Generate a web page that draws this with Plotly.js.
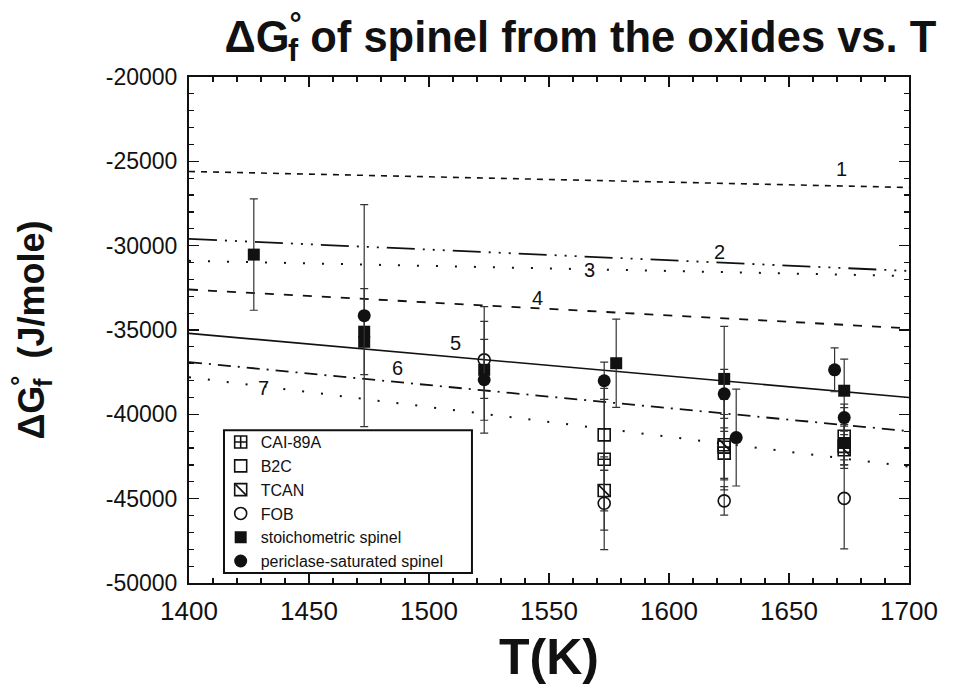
<!DOCTYPE html>
<html>
<head>
<meta charset="utf-8">
<script src="https://cdn.plot.ly/plotly-3.0.1.min.js"></script>
<style>html,body{margin:0;padding:0;background:#fff;}#chart{width:953px;height:694px;}</style>
</head>
<body>
<div id="chart"></div>
<script>
// ---- data ----
const lineT = [1400, 1700];
const line1 = [-25600, -26550];
const line2 = [-29600, -31500];
const line3 = [-30900, -31800];
const line4 = [-32600, -34900];
const line5 = [-35200, -39000];
const line6 = [-36900, -41000];
const line7 = [-37800, -43100];
const lineLabels = ["1", "2", "3", "4", "5", "6", "7"];
const labelT = [1672, 1621, 1567, 1545, 1511, 1487, 1431];
const labelG = [-25450, -30350, -31450, -33100, -35750, -37250, -38450];

const caiT = [1573, 1623, 1673];
const caiG = [-42660, -42300, -41900];
const caiErr = [4200, 1500, 1300];

const b2cT = [1573, 1623, 1673];
const b2cG = [-41220, -41950, -41300];
const b2cErr = [2100, 1940, 1700];

const tcanT = [1573, 1623, 1673];
const tcanG = [-44520, -41800, -42100];
const tcanErr = [1200, 2680, 900];

const fobT = [1523, 1573, 1623, 1673];
const fobG = [-36770, -45270, -45130, -44980];
const fobErr = [2280, 2750, 840, 3000];

const stoT = [1427, 1473, 1473, 1523, 1578, 1623, 1673, 1673];
const stoG = [-30530, -35100, -35700, -37360, -36970, -37900, -38600, -41700];
const stoErr = [3300, 2550, 0, 3750, 2620, 3110, 1875, 1000];

const perT = [1473, 1523, 1573, 1623, 1628, 1669, 1673];
const perG = [-34150, -37950, -38010, -38785, -41380, -37360, -40190];
const perErr = [6580, 2400, 1100, 1450, 2870, 1300, 800];

const xTicks = [1400, 1450, 1500, 1550, 1600, 1650, 1700];
const yTicks = [-50000, -45000, -40000, -35000, -30000, -25000, -20000];

// ---- styles ----
const FONT = "Liberation Sans, Arial, Helvetica, sans-serif";
const INK = "#111";
function lineTrace(y, dash, w) {
  return {x: lineT, y: y, mode: "lines", showlegend: false, hoverinfo: "skip",
          line: {color: INK, width: w, dash: dash}};
}
function err(arr) {
  return {type: "data", array: arr, visible: true, color: "#333", thickness: 1.2, width: 4};
}
const MS = 12;
const traces = [
  lineTrace(line1, "6px,6px", 1.6),
  lineTrace(line2, "28px,8px,2px,8px,2px,8px,2px,8px", 1.8),
  lineTrace(line3, "2px,17px", 2),
  lineTrace(line4, "9px,10px", 1.8),
  lineTrace(line5, "solid", 1.6),
  lineTrace(line6, "13px,7px,2px,7px", 1.8),
  lineTrace(line7, "2px,17px", 2),
  {x: caiT, y: caiG, name: "CAI-89A", mode: "markers", error_y: err(caiErr),
   marker: {symbol: "square-cross-open", size: MS, color: INK, line: {width: 1.6, color: INK}}},
  {x: b2cT, y: b2cG, name: "B2C", mode: "markers", error_y: err(b2cErr),
   marker: {symbol: "square-open", size: MS, color: INK, line: {width: 1.6, color: INK}}},
  {x: tcanT, y: tcanG, name: "TCAN", mode: "markers", error_y: err(tcanErr),
   marker: {symbol: "square-open", size: MS, color: INK, line: {width: 1.6, color: INK}}},
  {x: fobT, y: fobG, name: "FOB", mode: "markers", error_y: err(fobErr),
   marker: {symbol: "circle-open", size: MS, color: INK, line: {width: 1.6, color: INK}}},
  {x: stoT, y: stoG, name: "stoichometric spinel", mode: "markers", error_y: err(stoErr),
   marker: {symbol: "square", size: MS, color: INK}},
  {x: perT, y: perG, name: "periclase-saturated spinel", mode: "markers", error_y: err(perErr),
   marker: {symbol: "circle", size: MS + 1, color: INK}},
  {x: tcanT, y: tcanG, mode: "markers", showlegend: false, hoverinfo: "skip",
   marker: {symbol: "line-nw-open", size: MS, color: INK, line: {width: 1.6, color: INK}}}
];

const annotations = lineLabels.map((t, i) => ({
  x: labelT[i], y: labelG[i], text: t, showarrow: false,
  font: {family: FONT, size: 20, color: INK}, xanchor: "center", yanchor: "middle"
}));

const axisCommon = {
  showgrid: false, zeroline: false, showline: true, linecolor: INK, linewidth: 2,
  mirror: "ticks", ticks: "inside", ticklen: 10, tickwidth: 1.5, tickcolor: INK
};

const DG = "ΔG<sup><span style='letter-spacing:-0.45em'>°</span></sup><sub>f</sub>";

const layout = {
  width: 953, height: 694,
  margin: {l: 189, r: 44, t: 77, b: 111},
  paper_bgcolor: "#fff", plot_bgcolor: "#fff",
  title: {text: DG + " of spinel from the oxides vs. T",
          font: {family: FONT, size: 43.5, color: INK, weight: "bold"},
          x: 0.609, xanchor: "center", y: 0.947, yanchor: "middle"},
  xaxis: Object.assign({}, axisCommon, {
    range: [1400, 1700], tickvals: xTicks, ticktext: xTicks.map(String),
    tickfont: {family: FONT, size: 26, color: INK},
    minor: {dtick: 10, ticks: "inside", ticklen: 5, tickwidth: 1.2, tickcolor: INK},
    ticklabelstandoff: 4,
    title: {text: "T(K)", font: {family: FONT, size: 50, color: INK, weight: "bold"}, standoff: 14}
  }),
  yaxis: Object.assign({}, axisCommon, {
    range: [-50000, -20000], tickvals: yTicks, ticktext: yTicks.map(String),
    tickfont: {family: FONT, size: 23, color: INK},
    minor: {dtick: 1000, ticks: "inside", ticklen: 5, tickwidth: 1.2, tickcolor: INK},
    ticklabelstandoff: 5,
    title: {text: DG + "  (J/mole)", font: {family: FONT, size: 36, color: INK, weight: "bold"}, standoff: 50}
  }),
  legend: {x: 0.044, y: 0.312, xanchor: "left", yanchor: "top",
           bgcolor: "rgba(255,255,255,0)", borderwidth: 0,
           font: {family: FONT, size: 16, color: INK}, itemwidth: 30},
  annotations: annotations,
  shapes: [{type: "rect", xref: "paper", yref: "paper", layer: "above",
            x0: 0.0486, x1: 0.393, y0: 0.0198, y1: 0.302,
            line: {color: INK, width: 2}, fillcolor: "rgba(0,0,0,0)"}],
  showlegend: true
};

const gd = document.getElementById("chart");
Plotly.newPlot(gd, traces, layout, {displayModeBar: false, staticPlot: true}).then(() => {
  // add the diagonal stroke of the TCAN legend symbol (square with a diagonal)
  const items = gd.querySelectorAll(".legend .traces");
  let sym = null;
  items.forEach(it => {
    const t = it.querySelector(".legendtext");
    if (t && t.textContent === "TCAN") sym = it.querySelector(".legendpoints path");
  });
  if (!sym) return;
  const r = sym.getBoundingClientRect();
  const c = gd.getBoundingClientRect();
  const fs = gd._fullLayout._size;
  const px = v => (v - c.left - fs.l) / fs.w;
  const py = v => 1 - (v - c.top - fs.t) / fs.h;
  const inset = 0.8;
  const shapes = layout.shapes.concat([{
    type: "line", xref: "paper", yref: "paper", layer: "above",
    x0: px(r.left + inset), y0: py(r.top + inset), x1: px(r.right - inset), y1: py(r.bottom - inset),
    line: {color: INK, width: 1.6}
  }]);
  return Plotly.relayout(gd, {shapes: shapes});
});
</script>
</body>
</html>
